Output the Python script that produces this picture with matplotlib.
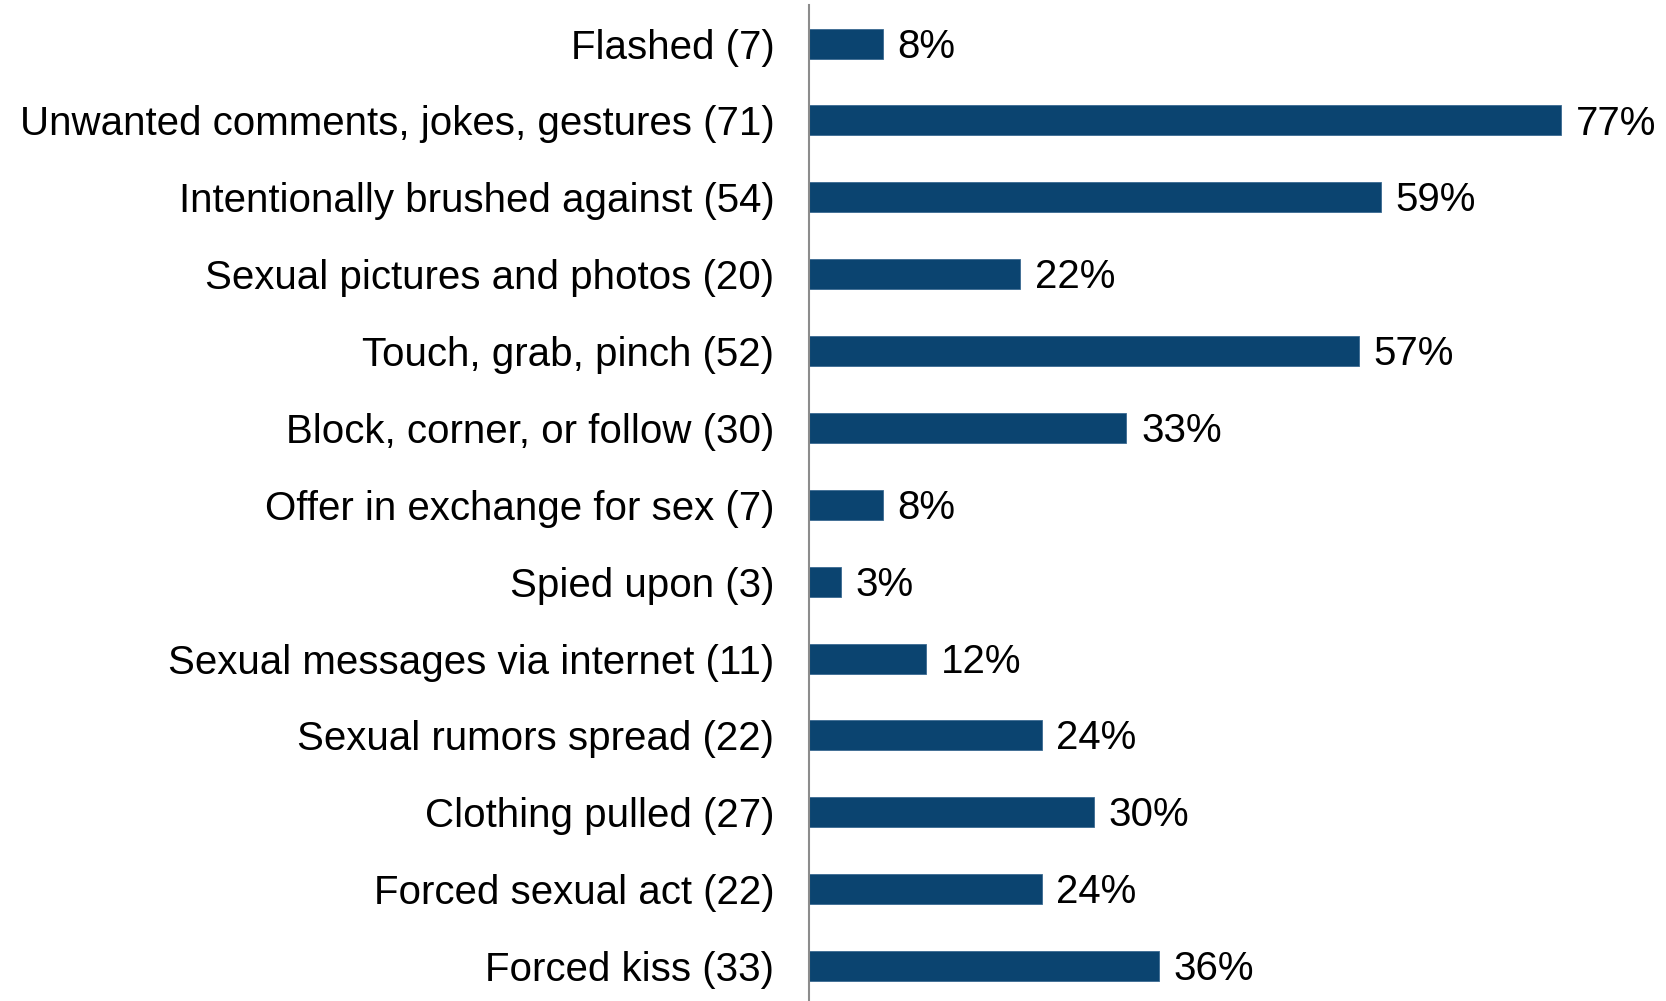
import matplotlib
import matplotlib.pyplot as plt
matplotlib.use("Agg")

plt.rcParams['font.family'] = ['Liberation Sans', 'DejaVu Sans']

categories = [
    'Flashed (7)',
    'Unwanted comments, jokes, gestures (71)',
    'Intentionally brushed against (54)',
    'Sexual pictures and photos (20)',
    'Touch, grab, pinch (52)',
    'Block, corner, or follow (30)',
    'Offer in exchange for sex (7)',
    'Spied upon (3)',
    'Sexual messages via internet (11)',
    'Sexual rumors spread (22)',
    'Clothing pulled (27)',
    'Forced sexual act (22)',
    'Forced kiss (33)',
]
percents = [7.6, 77.2, 58.7, 21.7, 56.5, 32.6, 7.6, 3.3, 12.0, 23.9, 29.3, 23.9, 35.9]
value_labels = ['8%', '77%', '59%', '22%', '57%', '33%', '8%', '3%', '12%', '24%', '30%', '24%', '36%']

fig = plt.figure(figsize=(16.66, 10.01), dpi=100)
ax = fig.add_axes([809 / 1666, 0, 857 / 1666, 996 / 1001])

ypos = list(range(len(categories)))
ax.barh(ypos, percents, height=0.39, color='#0b4470', edgecolor='#3a6a91', linewidth=0.6)

for y, v, lab in zip(ypos, percents, value_labels):
    ax.text(v + 1.5, y + 0.04, lab, va='center', ha='left', fontsize=29, color='black')

ax.set_xlim(0, 88)
ax.set_ylim(12.455, -0.502)
ax.set_yticks(ypos)
ax.set_yticklabels(categories, fontsize=29)
ax.tick_params(axis='y', length=0, pad=25)
ax.set_xticks([])

for s in ['top', 'right', 'bottom']:
    ax.spines[s].set_visible(False)
ax.spines['left'].set_color('#8c8c8c')
ax.spines['left'].set_linewidth(1.5)

fig.savefig('out.png', dpi=100)
